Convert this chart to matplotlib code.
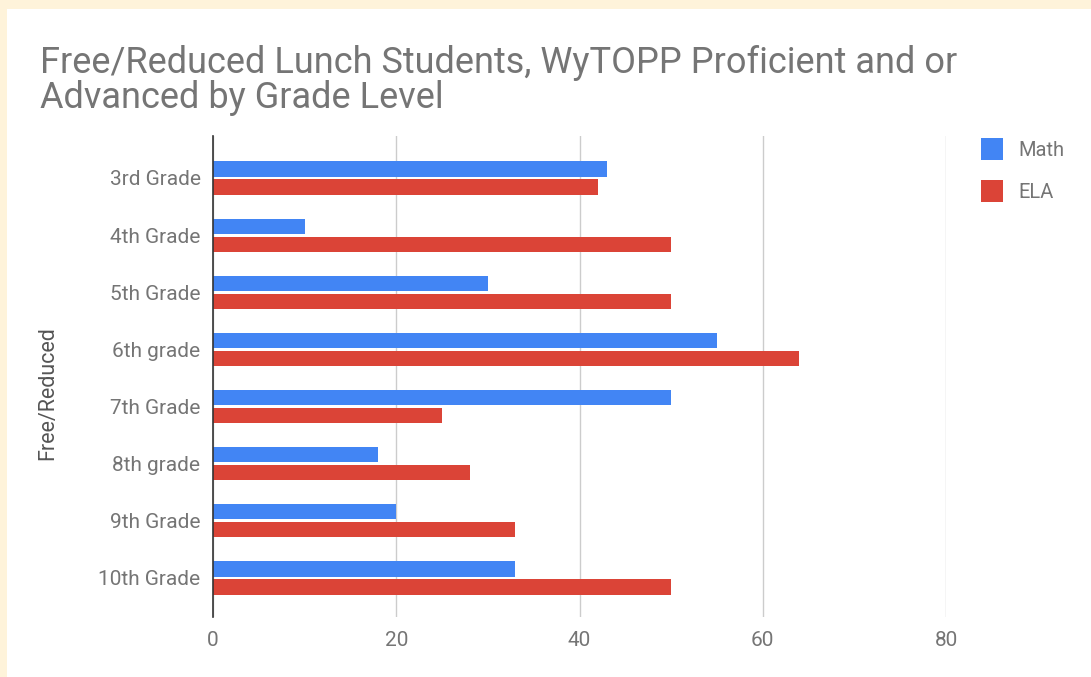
import numpy as np
import matplotlib.pyplot as plt
from matplotlib.patches import Rectangle

plt.rcParams['font.family'] = ['Roboto', 'DejaVu Sans']

grades = ["3rd Grade", "4th Grade", "5th Grade", "6th grade",
          "7th Grade", "8th grade", "9th Grade", "10th Grade"]
math = [43, 10, 30, 55, 50, 18, 20, 33]
ela = [42, 50, 50, 64, 25, 28, 33, 50]
xticks = [0, 20, 40, 60, 80]

W, H = 1091, 677
fig = plt.figure(figsize=(W / 100, H / 100), dpi=100)
fig.patch.set_facecolor("#fef3da")
# white card
fig.patches.append(Rectangle((7 / W, 0), 1, 1 - 9 / H, transform=fig.transFigure,
                             facecolor="white", edgecolor="none", zorder=0))

ax = fig.add_axes([213 / W, 1 - 617 / H, (946 - 213) / W, (617 - 136) / H])
ax.set_facecolor("none")
ax.set_zorder(2)

y = np.arange(len(grades))
off = 0.158
h = 0.265
ax.barh(y - off, math, height=h, color="#4285f4", label="Math", zorder=3)
ax.barh(y + off, ela, height=h, color="#db4437", label="ELA", zorder=3)

ax.set_xlim(0, 80)
ax.set_ylim(7.683, -0.735)
ax.set_yticks(y)
ax.set_yticklabels(grades)
ax.set_xticks(xticks)
ax.tick_params(axis="y", length=0, pad=9, labelsize=15, labelcolor="#757575")
ax.tick_params(axis="x", length=0, pad=10, labelsize=15, labelcolor="#757575")
ax.grid(axis="x", color="#cccccc", linewidth=1, zorder=0)
for s in ["top", "right", "bottom"]:
    ax.spines[s].set_visible(False)
ax.spines["left"].set_color("#333333")
ax.spines["left"].set_linewidth(1.2)
ax.spines["left"].set_zorder(4)

fig.text(48 / W, 1 - 393 / H, "Free/Reduced", rotation=90, ha="center", va="center",
         fontsize=15.5, color="#555555")

fig.text(40 / W, 1 - 108 / H, "Free/Reduced Lunch Students, WyTOPP Proficient and or\nAdvanced by Grade Level",
         ha="left", va="baseline", fontsize=26, color="#757575", linespacing=0.95)

leg = ax.legend(loc="upper left", bbox_to_anchor=(981 / W, 1 - 138 / H),
                bbox_transform=fig.transFigure, frameon=False, fontsize=14.5,
                borderpad=0, borderaxespad=0,
                handlelength=1.1, handleheight=1.3, handletextpad=0.75, labelspacing=1.0)
for t in leg.get_texts():
    t.set_color("#757575")

fig.savefig("out.png", dpi=100, facecolor=fig.get_facecolor())
